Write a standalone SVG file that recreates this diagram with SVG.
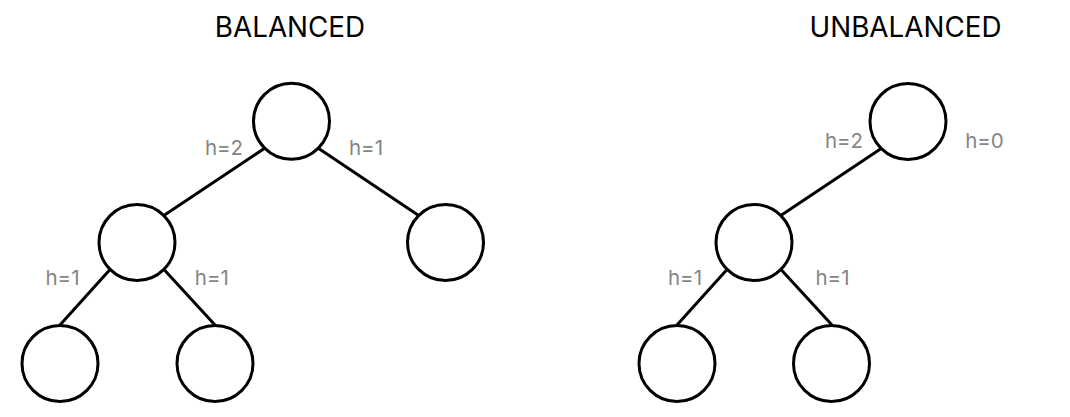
<svg xmlns="http://www.w3.org/2000/svg" width="1070" height="417" viewBox="0 0 1070 417">
<style>
.node{fill:#fff;stroke:#000;stroke-width:3}
.edge{stroke:#000;stroke-width:3;fill:none}
.title{font-family:Inter,"Liberation Sans",sans-serif;font-size:27.8px;fill:#000;text-anchor:middle}
.lbl{font-family:Inter,"Liberation Sans",sans-serif;font-size:20.5px;fill:#858585;text-anchor:middle}
</style>
<rect width="1070" height="417" fill="#fff"/>
<text class="title" x="290" y="37.3">BALANCED</text>
<text class="title" x="905.5" y="37.3">UNBALANCED</text>
<g id="connectors">
<line class="edge" x1="264.3" y1="148.5" x2="164.2" y2="215.3"/>
<line class="edge" x1="318.7" y1="148.5" x2="418.3" y2="215.3"/>
<line class="edge" x1="109.8" y1="269.7" x2="60" y2="325"/>
<line class="edge" x1="164.2" y1="269.7" x2="215" y2="325"/>
<line class="edge" x1="880.8" y1="148.7" x2="781.2" y2="215.3"/>
<line class="edge" x1="726.8" y1="269.7" x2="677" y2="325"/>
<line class="edge" x1="781.2" y1="269.7" x2="832" y2="325"/>
</g>
<g id="b-root"><circle class="node" cx="291.5" cy="121.3" r="38"/></g>
<g id="b-left"><circle class="node" cx="137" cy="242.5" r="38"/></g>
<g id="b-right"><circle class="node" cx="445.5" cy="242.5" r="38"/></g>
<g id="b-left-left"><circle class="node" cx="60" cy="363.5" r="38"/></g>
<g id="b-left-right"><circle class="node" cx="215" cy="363.5" r="38"/></g>
<g id="u-root"><circle class="node" cx="908" cy="121.5" r="38"/></g>
<g id="u-left"><circle class="node" cx="754" cy="242.5" r="38"/></g>
<g id="u-left-left"><circle class="node" cx="677" cy="363.5" r="38"/></g>
<g id="u-left-right"><circle class="node" cx="831.5" cy="363.5" r="38"/></g>
<g id="labels">
<text class="lbl" x="224" y="155">h=2</text>
<text class="lbl" x="366" y="155">h=1</text>
<text class="lbl" x="62.5" y="285">h=1</text>
<text class="lbl" x="211.8" y="285">h=1</text>
<text class="lbl" x="844" y="148.3">h=2</text>
<text class="lbl" x="984.5" y="148.3">h=0</text>
<text class="lbl" x="685" y="285">h=1</text>
<text class="lbl" x="832.5" y="285">h=1</text>
</g>
</svg>
